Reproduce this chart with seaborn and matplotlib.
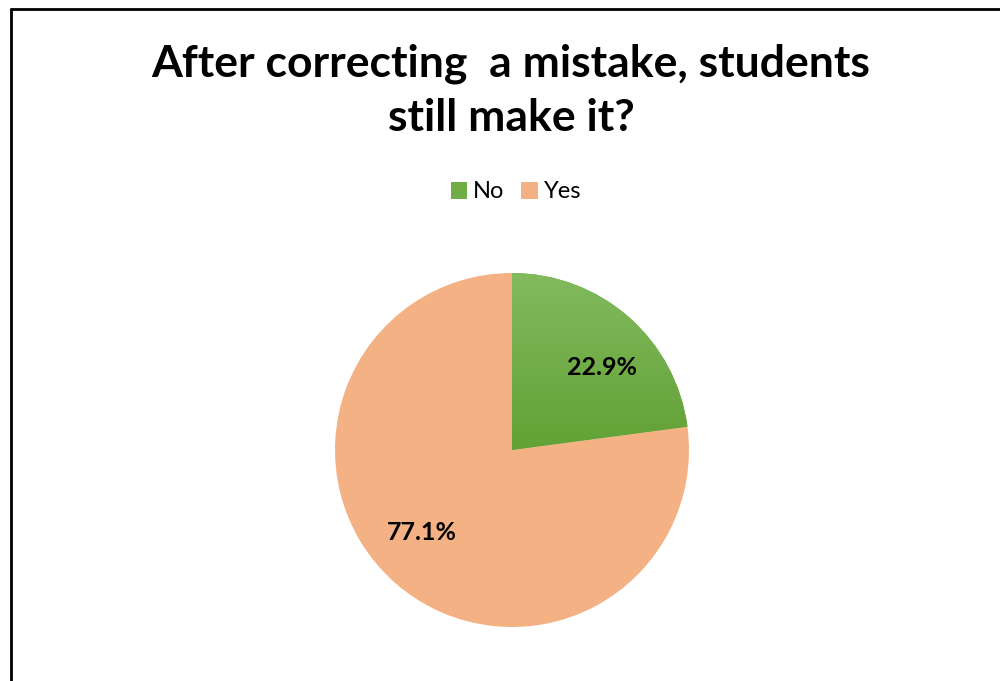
import numpy as np
import matplotlib
matplotlib.use("Agg")
import matplotlib.pyplot as plt
from matplotlib.lines import Line2D
from matplotlib.colors import LinearSegmentedColormap
import seaborn as sns

# Survey answers
categories = ["No", "Yes"]
shares = [22.9, 77.1]
colors = ["#70AD47", "#F4B183"]
title = "After correcting  a mistake, students\nstill make it?"

sns.set_theme(style="white")
plt.rcParams["font.family"] = ["Lato", "DejaVu Sans"]
plt.rcParams["text.color"] = "black"

fig = plt.figure(figsize=(10, 6.81), dpi=100)
fig.patch.set_facecolor("white")

# Pie area: centre and radius in figure pixels
cx, cy, r = 512, 450, 177
W, H = 1000, 681
ax = fig.add_axes([(cx - r) / W, 1 - (cy + r) / H, 2 * r / W, 2 * r / H])

wedges, texts, autotexts = ax.pie(
    shares,
    colors=colors,
    startangle=90,
    counterclock=False,
    autopct="%1.1f%%",
    pctdistance=0.69,
    wedgeprops=dict(linewidth=0),
    textprops=dict(fontsize=18, fontweight="bold", color="black"),
)
ax.set_xlim(-1, 1)
ax.set_ylim(-1, 1)
ax.set_aspect("equal")
ax.axis("off")

# Nudge percentage labels a little clockwise around the centre
rot = np.deg2rad(-6)
for t in autotexts:
    x, y = t.get_position()
    t.set_position((x * np.cos(rot) - y * np.sin(rot), x * np.sin(rot) + y * np.cos(rot)))
    t.set_zorder(5)

# Soft vertical gradient on the green slice
green_cmap = LinearSegmentedColormap.from_list("g", ["#62A135", "#82BA5E"])
grad = np.linspace(0, 1, 256).reshape(-1, 1)
img = ax.imshow(grad, extent=(-1, 1, 0, 1), origin="lower", cmap=green_cmap,
                aspect="auto", zorder=wedges[0].get_zorder() + 0.1)
img.set_clip_path(wedges[0])

# Title
fig.text(0.511, 1 - 91 / H, title, ha="center", va="center",
         fontsize=32, fontweight="bold", linespacing=1.42, color="black")

# Legend
handles = [plt.Rectangle((0, 0), 1, 1, facecolor=c, edgecolor="none") for c in colors]
fig.legend(handles, categories, loc="center", bbox_to_anchor=(0.516, 1 - 192 / H),
           ncol=2, frameon=False, fontsize=17, handlelength=0.7, handleheight=0.7,
           handletextpad=0.25, columnspacing=0.7, labelcolor="black")

# Chart border (top and left edges visible)
fig.add_artist(Line2D([11 / W, 11 / W], [0, 1 - 9 / H], transform=fig.transFigure,
                      color="black", linewidth=2))
fig.add_artist(Line2D([11 / W, 1], [1 - 9 / H, 1 - 9 / H], transform=fig.transFigure,
                      color="black", linewidth=2))

fig.savefig("out.png", dpi=100, facecolor="white")
